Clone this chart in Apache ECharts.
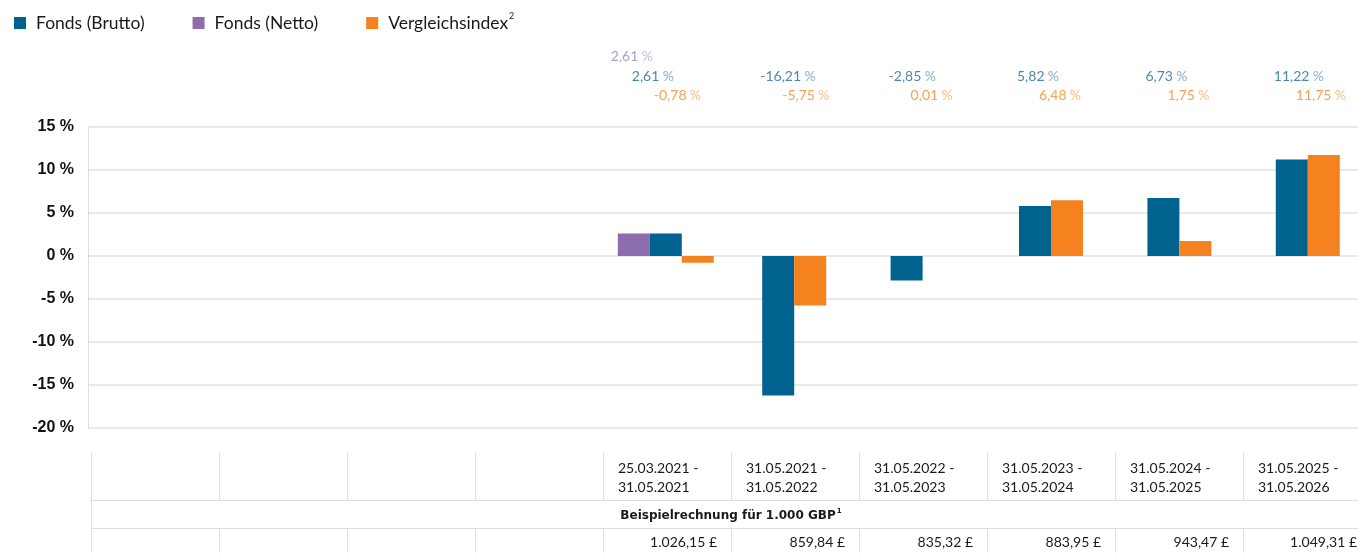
<!DOCTYPE html>
<html>
<head>
<meta charset="utf-8">
<script src="https://cdn.jsdelivr.net/npm/echarts@6/dist/echarts.min.js"></script>
<style>
  html, body { margin: 0; padding: 0; background: #fff; }
  #main { width: 1358px; height: 553px; }
</style>
</head>
<body>
<div id="main"></div>
<script>
// Zeiträume (erste vier Spalten leer)
const periods = ['', '', '', '',
  '25.03.2021 -\n31.05.2021', '31.05.2021 -\n31.05.2022', '31.05.2022 -\n31.05.2023',
  '31.05.2023 -\n31.05.2024', '31.05.2024 -\n31.05.2025', '31.05.2025 -\n31.05.2026'];
const fondsBrutto = [null, null, null, null, 2.61, -16.21, -2.85, 5.82, 6.73, 11.22];
const fondsNetto = [null, null, null, null, 2.61, null, null, null, null, null];
const vergleichsindex = [null, null, null, null, -0.78, -5.75, 0.01, 6.48, 1.75, 11.75];
const beispielrechnung = [null, null, null, null, 1026.15, 859.84, 835.32, 883.95, 943.47, 1049.31];
const yMin = -20, yMax = 15, yStep = 5;

const BLUE = '#00628f', PURPLE = '#8c6dae', ORANGE = '#f5821f';
const FONT = 'Lato';

// Zahlen im deutschen Format
const fmtNum = v => {
  const [int, dec] = Math.abs(v).toFixed(2).split('.');
  const grouped = int.replace(/\B(?=(\d{3})+(?!\d))/g, '.');
  return (v < 0 ? '-' : '') + grouped + ',' + dec;
};
const moneyLabels = beispielrechnung.map(v => v == null ? '' : fmtNum(v) + ' £');

const hasNetto = i => fondsNetto[i] != null;
const pick = (arr, cond) => arr.map((v, i) => (cond(i) ? v : null));

const barBase = { type: 'bar', barWidth: 32, barGap: '0%', yAxisIndex: 0, emphasis: { disabled: true } };

function valueLabels(arr, row, dx, color, light) {
  return {
    type: 'scatter', name: 'lbl' + row, xAxisIndex: 2, yAxisIndex: 1, symbolSize: 0, silent: true,
    data: arr.map((v, i) => (v == null ? null : [i, row, v])).filter(Boolean),
    label: {
      show: true, position: 'inside', align: 'left', offset: [dx, 0],
      formatter: p => '{v|' + fmtNum(p.value[2]) + '} {p|%}',
      rich: {
        v: { color: color, fontFamily: FONT, fontSize: 14 },
        p: { color: light, fontFamily: FONT, fontSize: 14 }
      }
    }
  };
}

const chart = echarts.init(document.getElementById('main'));
const line = { lineStyle: { color: '#dedede', width: 1 } };

const option = {
  animation: false,
  legend: {
    left: 9, top: 7, itemWidth: 12, itemHeight: 12, itemGap: 48, icon: 'rect',
    data: ['Fonds (Brutto)', 'Fonds (Netto)', 'Vergleichsindex'],
    formatter: n => n === 'Vergleichsindex' ? '{n|' + n + '}{sup|2}' : '{n|' + n + '}',
    textStyle: {
      padding: [0, 0, 0, 5],
      rich: {
        n: { fontFamily: FONT, fontSize: 17.5, color: '#1a1a1a', lineHeight: 22 },
        sup: { fontFamily: FONT, fontSize: 9, color: '#1a1a1a', verticalAlign: 'top', lineHeight: 22, padding: [0, 0, 8, 1] }
      }
    }
  },
  title: {
    text: '{b|Beispielrechnung für 1.000 GBP}{sup|1}',
    left: 731, top: 508, textAlign: 'center', padding: 0,
    textStyle: {
      rich: {
        b: { fontFamily: 'DejaVu Sans', fontSize: 12, fontWeight: 'bold', color: '#1a1a1a', lineHeight: 15 },
        sup: { fontFamily: 'DejaVu Sans', fontSize: 7, fontWeight: 'bold', color: '#1a1a1a', verticalAlign: 'top', padding: [0, 0, 6, 1] }
      }
    }
  },
  grid: [
    { left: 88, width: 1284, top: 127, height: 301, outerBoundsMode: 'none' },   // Balken
    { left: 88, width: 1284, top: 37, height: 78, outerBoundsMode: 'none' },     // Werte oben
    { left: 91, width: 1280, top: 453, height: 47, outerBoundsMode: 'none' },    // Tabelle Zeiträume
    { left: 91, width: 1280, top: 500, height: 28, outerBoundsMode: 'none' },    // Tabelle Überschrift
    { left: 91, width: 1280, top: 528, height: 40, outerBoundsMode: 'none' }     // Tabelle Beträge
  ],
  xAxis: [
    { gridIndex: 0, type: 'category', data: periods, show: false },
    { gridIndex: 0, type: 'category', data: periods, show: false },
    { gridIndex: 1, type: 'category', data: periods, show: false },
    {
      gridIndex: 2, type: 'category', data: periods, position: 'top',
      axisLine: line, axisTick: { show: false }, splitLine: { show: true, ...line },
      axisLabel: {
        inside: true, interval: 0, margin: 6, align: 'center',
        formatter: v => v ? v.split('\n').map(s => '{d|' + s + '}').join('\n') : '',
        rich: { d: { width: 98, align: 'left', fontFamily: FONT, fontSize: 14, lineHeight: 19, color: '#1a1a1a' } }
      }
    },
    { gridIndex: 3, type: 'category', data: periods, show: false },
    {
      gridIndex: 4, type: 'category', data: moneyLabels, position: 'top',
      axisLine: line, axisTick: { show: false }, splitLine: { show: true, ...line },
      axisLabel: {
        inside: true, interval: 0, margin: 7, align: 'center',
        formatter: v => v ? '{m|' + v + '}' : '',
        rich: { m: { width: 100, align: 'right', fontFamily: FONT, fontSize: 14, color: '#1a1a1a' } }
      }
    }
  ],
  yAxis: [
    {
      gridIndex: 0, type: 'value', min: yMin, max: yMax, interval: yStep,
      axisLine: { show: true, ...line }, axisTick: { show: false },
      splitLine: { lineStyle: { color: '#e2e2e2', width: 1.5 } },
      axisLabel: {
        formatter: '{value} %', margin: 14, color: '#111',
        fontFamily: 'Liberation Sans', fontWeight: 'bold', fontSize: 16
      }
    },
    { gridIndex: 1, type: 'value', min: 0, max: 4, show: false },
    { gridIndex: 2, type: 'value', show: false },
    {
      gridIndex: 3, type: 'value', min: 0, max: 1, interval: 1,
      axisLine: { show: true, ...line }, axisTick: { show: false }, axisLabel: { show: false },
      splitLine: { show: true, ...line }
    },
    { gridIndex: 4, type: 'value', show: false }
  ],
  series: [
    // Spalte mit Netto-Wert: drei Balken
    { ...barBase, name: 'Fonds (Netto)', xAxisIndex: 0, data: fondsNetto, itemStyle: { color: PURPLE } },
    { ...barBase, name: 'Fonds (Brutto)', xAxisIndex: 0, data: pick(fondsBrutto, hasNetto), itemStyle: { color: BLUE } },
    { ...barBase, name: 'Vergleichsindex', xAxisIndex: 0, data: pick(vergleichsindex, hasNetto), itemStyle: { color: ORANGE } },
    // übrige Spalten: zwei Balken
    { ...barBase, name: 'Fonds (Brutto)', xAxisIndex: 1, data: pick(fondsBrutto, i => !hasNetto(i)), itemStyle: { color: BLUE } },
    { ...barBase, name: 'Vergleichsindex', xAxisIndex: 1, data: pick(vergleichsindex, i => !hasNetto(i)), itemStyle: { color: ORANGE } },
    // Wertezeilen oben
    valueLabels(fondsNetto, 3, -55, '#9a83bf', '#b9a9d3'),
    valueLabels(fondsBrutto, 2, -34, '#1c6a96', '#6a9cbd'),
    valueLabels(vergleichsindex, 1, -12, '#f58a2a', '#f8ac68')
  ]
};

chart.setOption(option);
</script>
</body>
</html>
